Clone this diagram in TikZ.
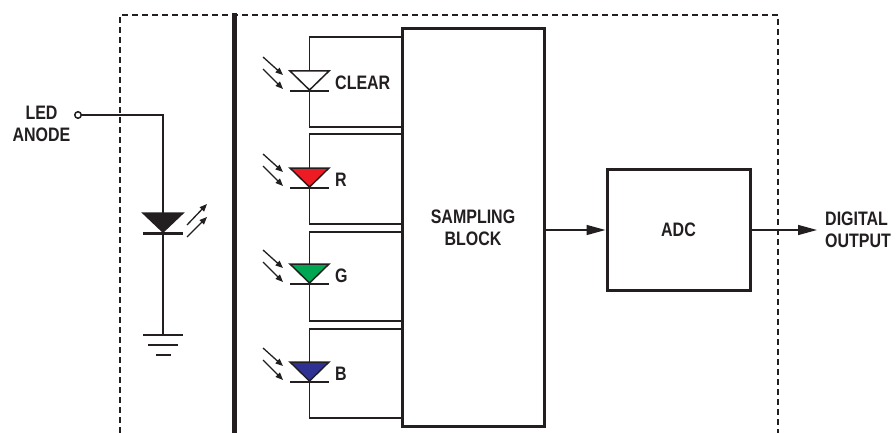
\documentclass[tikz,border=0pt]{standalone}
\usepackage{fontspec}
\setmainfont[FakeStretch=0.82]{Liberation Sans}
\usetikzlibrary{arrows.meta}
\definecolor{dRed}{HTML}{ED1C24}
\definecolor{dGreen}{HTML}{00A651}
\definecolor{dBlue}{HTML}{2E3192}
\definecolor{txt}{HTML}{231F20}
\begin{document}
\begin{tikzpicture}[x=1pt,y=-1pt,
  wire/.style={line width=1.5pt, draw=txt},
  blk/.style={draw=txt, line width=3pt, inner sep=0pt},
  lbl/.style={font=\fontsize{19.5}{22}\selectfont\bfseries, text=txt, inner sep=0pt, align=center},
  ray/.style={line width=1.3pt, draw=txt, -{Triangle[length=7.5pt,width=6pt]}},
  big/.style={wire, -{Triangle[length=19pt,width=10pt]}},
  gnd/.style={line width=2.4pt, draw=txt},
  dbar/.style={line width=2.2pt, draw=txt},
  frame/.style={line width=1.2pt, draw=txt, dash pattern=on 6pt off 4pt}]
\useasboundingbox (0,0) rectangle (896,433);
% dashed enclosure
\draw[frame] (120,433) -- (120,15) -- (778,15) -- (778,433);
% thick bus bar
\draw[line width=4.5pt, draw=txt] (234.5,13) -- (234.5,433);
% blocks
\node[blk, lbl, minimum width=142pt, minimum height=397pt] (sb) at (473,227.5) {SAMPLING\\BLOCK};
\node[blk, lbl, minimum width=143pt, minimum height=121pt] (adc) at (678.5,230) {ADC};
\draw[big] (sb.east |- adc.west) -- (adc.west);
\coordinate (out) at (817,230);
\draw[big] (adc.east) -- (out);
\node[lbl, anchor=west, align=left] (dout) at (825,230) {DIGITAL\\OUTPUT};
% LED anode
\node[lbl] (ledtxt) at (41.5,123.5) {LED\\ANODE};
\node[circle, draw=txt, line width=1.5pt, fill=white, inner sep=0pt, minimum size=6.5pt] (anode) at (78,115) {};
\coordinate (corner) at (163,115);
\coordinate (gtop) at (163,335);
\draw[wire] (anode.east) -- (corner) -- (gtop);
\filldraw[wire, fill=txt] (143,213) -- (183,213) -- (163,232) -- cycle;
\draw[dbar] (143,233.5) -- (183,233.5);
\draw[ray] (187,225) -- (207,204);
\draw[ray] (187,237) -- (207,217);
\draw[gnd] (143,335) -- (183,335);
\draw[gnd] (148,345) -- (178,345);
\draw[gnd] (156,355) -- (171,355);
% photodiodes
\foreach \t/\tp/\bt/\col/\txt in {71/37/127/white/CLEAR, 168/134/224/dRed/R, 264/232/321/dGreen/G, 362/329/418/dBlue/B} {
  \draw[wire] (sb.west |- 0,\tp) -| (309.5,\t);
  \filldraw[wire, fill=\col, line join=miter] (290,\t) -- (329,\t) -- (309.5,{\t+19}) -- cycle;
  \draw[dbar] (290,{\t+20}) -- (329,{\t+20});
  \draw[wire] (309.5,{\t+20}) |- (sb.west |- 0,\bt);
  \draw[ray] (263,{\t-14}) -- (283,{\t+4});
  \draw[ray] (263,{\t-2}) -- (283,{\t+18});
  \node[lbl, anchor=west] (lab\txt) at (335,{\t+11.5}) {\txt};
}
\end{tikzpicture}
\end{document}
